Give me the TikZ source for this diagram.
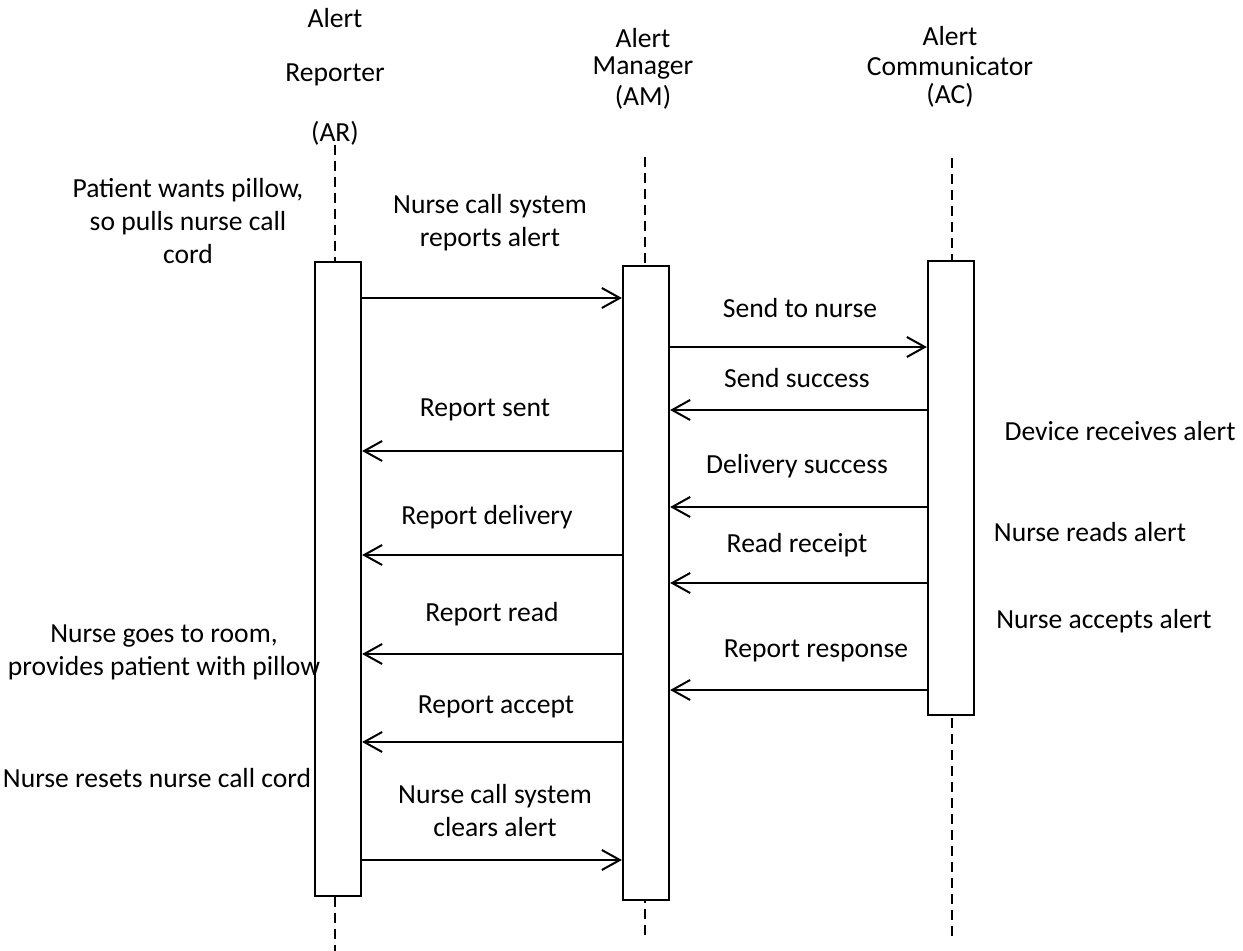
\documentclass[tikz,border=0pt]{standalone}
\usepackage{fontspec}
\setmainfont{Carlito}
\usetikzlibrary{arrows.meta}
\begin{document}
\begin{tikzpicture}[x=0.5pt,y=-0.5pt,
  lbl/.style={font=\fontsize{13.8}{16.5}\selectfont, inner sep=0pt, align=center},
  act/.style={draw, line width=1.1pt, fill=white, minimum width=23pt, inner sep=0pt, anchor=north},
  life/.style={line width=1pt, dash pattern=on 5pt off 3pt},
  msg/.style={line width=1pt, -{Straight Barb[length=9pt,width=10pt,line width=1pt]}}]
\useasboundingbox (0,0) rectangle (1243,951);

% lifelines
\coordinate (arT) at (335,145); \coordinate (arB) at (335,951);
\coordinate (amT) at (645,157); \coordinate (amB) at (645,940);
\coordinate (acT) at (952,158); \coordinate (acB) at (952,940);
\draw[life] (arT) -- (arB);
\draw[life] (amT) -- (amB);
\draw[life] (acT) -- (acB);

% activation boxes
\node[act, minimum height=316.75pt] (ar) at (338,261) {};
\node[act, minimum height=317pt] (am) at (646,265) {};
\node[act, minimum height=227pt] (ac) at (951,260) {};

% headers
\node[lbl] (h1) at (335,18) {Alert};
\node[lbl] (h2) at (335,75) {Reporter};
\node[lbl] (h3) at (335,133) {(AR)};
\node[lbl] (h4) at (643,38) {Alert};
\node[lbl] (h5) at (643,68) {Manager};
\node[lbl] (h6) at (643,97) {(AM)};
\node[lbl] (h7) at (950,36) {Alert};
\node[lbl] (h8) at (950,66) {Communicator};
\node[lbl] (h9) at (950,95) {(AC)};

% messages
\draw[msg] (ar.east |- 0,298) -- (am.west |- 0,298);
\node[lbl] (l1) at (490,223) {Nurse call system\\reports alert};
\draw[msg] (am.east |- 0,347) -- (ac.west |- 0,347);
\node[lbl] (l2) at (800,308) {Send to nurse};
\draw[msg] (ac.west |- 0,410) -- (am.east |- 0,410);
\node[lbl] (l3) at (797,378) {Send success};
\draw[msg] (am.west |- 0,451) -- (ar.east |- 0,451);
\node[lbl] (l4) at (485,410) {Report sent};
\draw[msg] (ac.west |- 0,507) -- (am.east |- 0,507);
\node[lbl] (l5) at (797,466) {Delivery success};
\draw[msg] (am.west |- 0,555) -- (ar.east |- 0,555);
\node[lbl] (l6) at (487,517) {Report delivery};
\draw[msg] (ac.west |- 0,583) -- (am.east |- 0,583);
\node[lbl] (l7) at (797,545) {Read receipt};
\draw[msg] (am.west |- 0,654) -- (ar.east |- 0,654);
\node[lbl] (l8) at (492,614) {Report read};
\draw[msg] (ac.west |- 0,690) -- (am.east |- 0,690);
\node[lbl] (l9) at (816,651) {Report response};
\draw[msg] (am.west |- 0,742) -- (ar.east |- 0,742);
\node[lbl] (l10) at (496,707) {Report accept};
\draw[msg] (ar.east |- 0,860) -- (am.west |- 0,860);
\node[lbl] (l11) at (495,811) {Nurse call system\\clears alert};

% side notes
\node[lbl] (n1) at (188,221) {Patient wants pillow,\\so pulls nurse call\\cord};
\node[lbl] (n2) at (1120,431) {Device receives alert};
\node[lbl] (n3) at (1090,532) {Nurse reads alert};
\node[lbl] (n4) at (1104,621) {Nurse accepts alert};
\node[lbl] (n5) at (164,652) {Nurse goes to room,\\provides patient with pillow};
\node[lbl] (n6) at (157,778) {Nurse resets nurse call cord};
\end{tikzpicture}
\end{document}
